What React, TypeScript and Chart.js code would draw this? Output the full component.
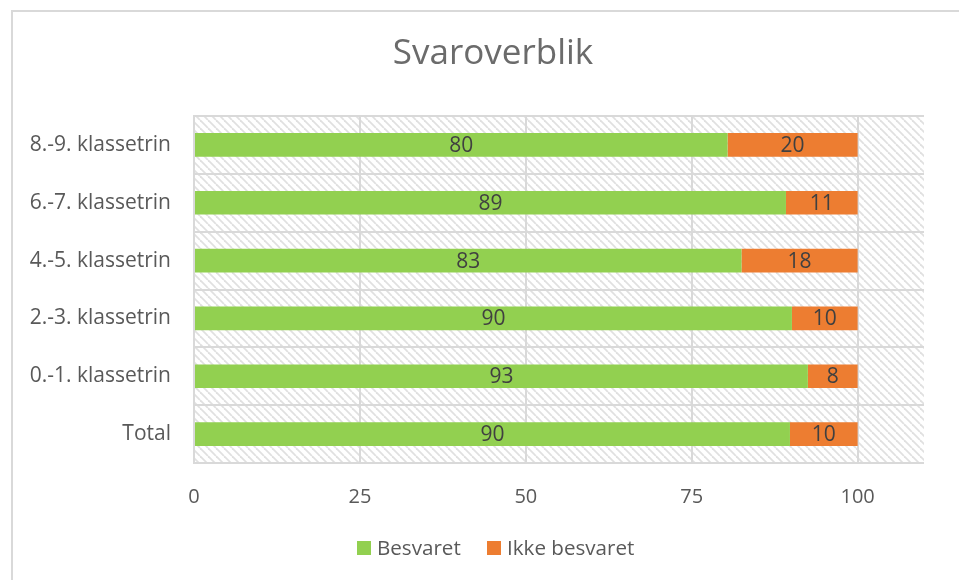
import React, { useEffect, useRef } from "react";
import { Chart, registerables } from "chart.js";

Chart.register(...registerables);

const chartTitle = "Svaroverblik";
const categories = [
  "8.-9. klassetrin",
  "6.-7. klassetrin",
  "4.-5. klassetrin",
  "2.-3. klassetrin",
  "0.-1. klassetrin",
  "Total",
];
const besvaret = [80.4, 89.2, 82.5, 90.1, 92.5, 89.8];
const ikkeBesvaret = [19.6, 10.8, 17.5, 9.9, 7.5, 10.2];
const seriesNames = ["Besvaret", "Ikke besvaret"];
const seriesColors = ["#92D050", "#ED7D31"];
const xTickValues = [0, 25, 50, 75, 100];
const xMax = 110;

const FONT = "'Open Sans', 'Noto Sans', sans-serif";
const GRID = "#d9d9d9";

export default function App() {
  const ref = useRef<HTMLCanvasElement | null>(null);

  useEffect(() => {
    const canvas = ref.current;
    if (!canvas) return;

    const tile = document.createElement("canvas");
    const s = 8;
    tile.width = s;
    tile.height = s;
    const tctx = tile.getContext("2d")!;
    tctx.strokeStyle = "#e0e0e0";
    tctx.lineWidth = 1.8;
    for (const k of [-s, 0, s]) {
      tctx.beginPath();
      tctx.moveTo(k, 0);
      tctx.lineTo(k + s, s);
      tctx.stroke();
    }
    const ctx0 = canvas.getContext("2d")!;
    const pattern = ctx0.createPattern(tile, "repeat");

    const customPlugin = {
      id: "custom",
      beforeDraw(chart: any) {
        const { ctx, chartArea } = chart;
        ctx.save();
        ctx.fillStyle = pattern as any;
        ctx.fillRect(
          chartArea.left,
          chartArea.top,
          chartArea.right - chartArea.left,
          chartArea.bottom - chartArea.top
        );
        ctx.restore();
      },
      afterDatasetsDraw(chart: any) {
        const { ctx } = chart;
        ctx.save();
        ctx.font = `21px ${FONT}`;
        ctx.fillStyle = "#404040";
        ctx.textAlign = "center";
        ctx.textBaseline = "middle";
        chart.data.datasets.forEach((ds: any, di: number) => {
          const meta = chart.getDatasetMeta(di);
          meta.data.forEach((bar: any, i: number) => {
            const v = ds.data[i];
            const cx = (bar.x + bar.base) / 2;
            ctx.fillText(String(Math.round(v)), cx, bar.y + 1);
          });
        });
        ctx.restore();
      },
      afterDraw(chart: any) {
        const { ctx } = chart;
        ctx.save();
        // title
        ctx.font = `35px ${FONT}`;
        ctx.fillStyle = "#6b6b6b";
        ctx.textAlign = "center";
        ctx.textBaseline = "alphabetic";
        ctx.fillText(chartTitle, 493, 64);
        // legend
        ctx.font = `20.6px ${FONT}`;
        ctx.textAlign = "left";
        const items = [
          { x: 357, label: seriesNames[0], color: seriesColors[0] },
          { x: 487, label: seriesNames[1], color: seriesColors[1] },
        ];
        items.forEach((it) => {
          ctx.fillStyle = it.color;
          ctx.fillRect(it.x, 541, 14, 14);
          ctx.fillStyle = "#595959";
          ctx.fillText(it.label, it.x + 20, 555);
        });
        ctx.restore();
      },
    };

    const chart = new Chart(canvas, {
      type: "bar",
      data: {
        labels: categories,
        datasets: [
          {
            label: seriesNames[0],
            data: besvaret,
            backgroundColor: seriesColors[0],
            borderWidth: 0,
            barPercentage: 0.41,
            categoryPercentage: 1,
          },
          {
            label: seriesNames[1],
            data: ikkeBesvaret,
            backgroundColor: seriesColors[1],
            borderWidth: 0,
            barPercentage: 0.41,
            categoryPercentage: 1,
          },
        ],
      },
      options: {
        indexAxis: "y",
        responsive: false,
        animation: false,
        layout: { padding: { left: 0, top: 116, right: 35, bottom: 67 } },
        plugins: {
          legend: { display: false },
          title: { display: false },
          tooltip: { enabled: false },
        },
        scales: {
          x: {
            stacked: true,
            min: 0,
            max: xMax,
            afterFit: (sc: any) => {
              sc.height = 50;
            },
            afterBuildTicks: (sc: any) => {
              sc.ticks = xTickValues.map((v) => ({ value: v }));
            },
            grid: { color: GRID, lineWidth: 2, drawTicks: false },
            border: { display: false },
            ticks: {
              padding: 22,
              color: "#595959",
              font: { family: FONT, size: 20 },
            },
          },
          y: {
            stacked: true,
            afterFit: (sc: any) => {
              sc.width = 194;
            },
            grid: { color: GRID, lineWidth: 2, drawTicks: false, offset: true },
            border: { display: true, color: GRID, width: 2 },
            ticks: {
              padding: 23,
              color: "#595959",
              font: { family: FONT, size: 21 },
            },
          },
        },
      },
      plugins: [customPlugin],
    });

    return () => chart.destroy();
  }, []);

  return (
    <div
      style={{
        position: "fixed",
        left: 0,
        top: 0,
        width: 959,
        height: 580,
        overflow: "hidden",
        background: "#ffffff",
      }}
    >
      <div
        style={{
          position: "absolute",
          left: 11,
          top: 10,
          width: 1000,
          height: 1000,
          borderLeft: `2px solid ${GRID}`,
          borderTop: `2px solid ${GRID}`,
        }}
      />
      <canvas
        ref={ref}
        width={959}
        height={580}
        style={{ position: "absolute", left: 0, top: 0, width: 959, height: 580 }}
      />
    </div>
  );
}
